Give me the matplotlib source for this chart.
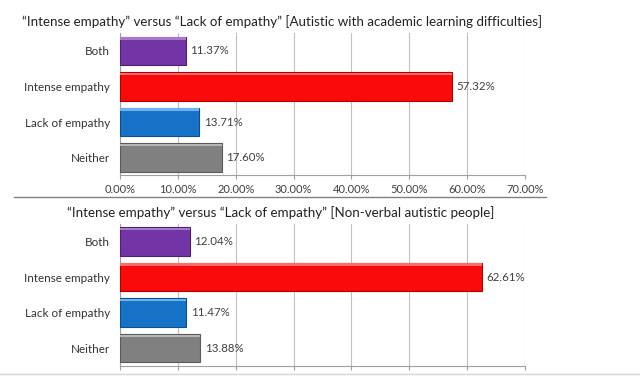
import matplotlib
matplotlib.use("Agg")
import matplotlib.pyplot as plt
from matplotlib.lines import Line2D

plt.rcParams['font.family'] = ['Lato', 'DejaVu Sans']

categories = ['Both', 'Intense empathy', 'Lack of empathy', 'Neither']
academic_vals = [11.37, 57.32, 13.71, 17.60]
nonverbal_vals = [12.04, 62.61, 11.47, 13.88]
tick_vals = [0, 10, 20, 30, 40, 50, 60, 70]
titles = ['\u201cIntense empathy\u201d versus \u201cLack of empathy\u201d [Autistic with academic learning difficulties]',
          '\u201cIntense empathy\u201d versus \u201cLack of empathy\u201d [Non-verbal autistic people]']

bar_colors = ['#7334A6', '#FA0A0A', '#1673C8', '#808080']
edge_colors = ['#4E1F73', '#B00000', '#0B4F8C', '#5A5A5A']
light_colors = ['#A57BC8', '#FF6A6A', '#6FB3EE', '#B5B5B5']
text_col = '#404040'

fig = plt.figure(figsize=(6.4, 3.79), dpi=100)
W, H = 640, 379


def draw_panel(rect, vals, show_ticks):
    ax = fig.add_axes(rect)
    y = list(range(len(categories)))
    ax.barh(y, vals, height=0.8, color=bar_colors, edgecolor=edge_colors, linewidth=0.8, zorder=3)
    # light bevel along the top edge of each bar
    ax.barh([yi - 0.35 for yi in y], vals, height=0.07, color=light_colors, linewidth=0, zorder=4)
    for yi, v in zip(y, vals):
        ax.text(v + 0.8, yi, f'{v:.2f}%', va='center', ha='left', fontsize=8.3, color=text_col)
    ax.set_xlim(0, 70)
    ax.set_ylim(len(categories) - 0.5, -0.5)
    ax.set_yticks(y)
    ax.set_yticklabels(categories, fontsize=8.4, color='#333333')
    ax.set_xticks(tick_vals)
    if show_ticks:
        ax.set_xticklabels([f'{t:.2f}%' for t in tick_vals], fontsize=8, color=text_col)
    else:
        ax.set_xticklabels([])
    ax.tick_params(axis='y', length=0, pad=7)
    ax.tick_params(axis='x', length=3, color='#A0A0A0', pad=3)
    ax.grid(axis='x', color='#C0C0C0', linewidth=0.8, zorder=0)
    for s in ['top', 'right']:
        ax.spines[s].set_visible(False)
    for s in ['left', 'bottom']:
        ax.spines[s].set_color('#A0A0A0')
        ax.spines[s].set_linewidth(0.8)
    return ax


draw_panel([120 / W, 1 - 175.5 / H, 405 / W, 142.5 / H], academic_vals, True)
draw_panel([120 / W, 1 - 366 / H, 405 / W, 142.3 / H], nonverbal_vals, False)

fig.text(282 / W, 1 - 22 / H, titles[0], ha='center', va='center', fontsize=9.6, color='#222222')
fig.text(281 / W, 1 - 213 / H, titles[1], ha='center', va='center', fontsize=9.6, color='#222222')

# separator lines between the two screenshots
fig.add_artist(Line2D([14 / W, 546 / W], [1 - 197 / H, 1 - 197 / H], color='#808080', linewidth=1))
fig.add_artist(Line2D([0, 1], [1 - 374 / H, 1 - 374 / H], color='#D5D5D5', linewidth=1))

fig.savefig('out.png', dpi=100)
